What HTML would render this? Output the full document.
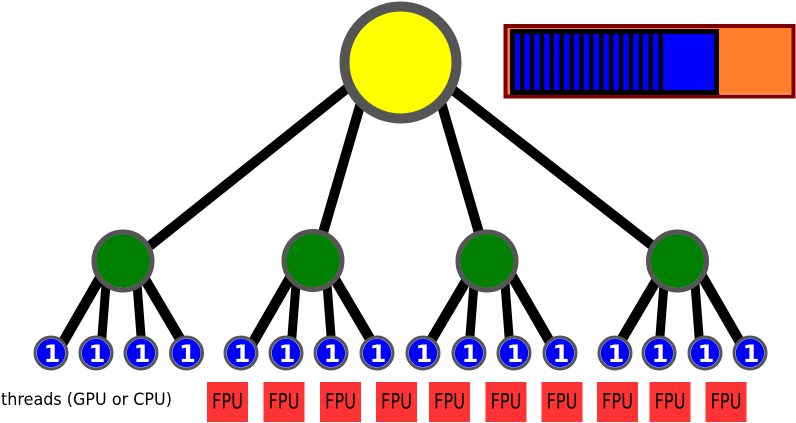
<!DOCTYPE html>
<html>
<head>
<meta charset="utf-8">
<style>
html,body{margin:0;padding:0;background:#fff;width:796px;height:423px;overflow:hidden}
svg{display:block}
text{font-family:"DejaVu Sans","Liberation Sans",sans-serif}
</style>
</head>
<body>
<svg width="796" height="423" viewBox="0 0 796 423" xmlns="http://www.w3.org/2000/svg">
<g stroke="#000" stroke-width="10" fill="none">
<line x1="147" y1="248" x2="360" y2="78"/>
<line x1="369" y1="75" x2="318" y2="250"/>
<line x1="433" y1="75" x2="484" y2="250"/>
<line x1="440" y1="80" x2="658" y2="250"/>
</g>
<g stroke="#000" fill="none">
<g stroke-width="10.500">
<line x1="104" y1="271" x2="58" y2="351"/>
<line x1="140" y1="271" x2="186" y2="349"/>
<line x1="294" y1="271" x2="248" y2="351"/>
<line x1="330" y1="271" x2="376" y2="349"/>
<line x1="472" y1="271" x2="426" y2="349"/>
<line x1="509" y1="271" x2="554" y2="349"/>
<line x1="662" y1="271" x2="616" y2="349"/>
<line x1="699" y1="271" x2="744" y2="349"/>
</g>
<g stroke-width="9">
<line x1="107" y1="271" x2="101" y2="349"/>
<line x1="136" y1="271" x2="142" y2="349"/>
<line x1="297" y1="271" x2="291" y2="349"/>
<line x1="326" y1="271" x2="332" y2="349"/>
<line x1="475" y1="271" x2="469" y2="349"/>
<line x1="504" y1="271" x2="510" y2="349"/>
<line x1="665" y1="271" x2="659" y2="349"/>
<line x1="694" y1="271" x2="700" y2="349"/>
</g>
</g>

<circle cx="400.500" cy="62.500" r="56" fill="#ff0" stroke="#555" stroke-width="10"/>

<g fill="#008000" stroke="#fff" stroke-width="0.800">
<circle cx="123" cy="261" r="27"/>
<circle cx="313" cy="260.500" r="27"/>
<circle cx="487" cy="261" r="27"/>
<circle cx="677.500" cy="261" r="27"/>
</g>
<g fill="none" stroke="#555" stroke-width="5">
<circle cx="123" cy="261" r="29"/>
<circle cx="313" cy="260.500" r="29"/>
<circle cx="487" cy="261" r="29"/>
<circle cx="677.500" cy="261" r="29"/>
</g>

<rect x="505.500" y="26" width="288" height="70.500" fill="#ff7f2a" stroke="#800000" stroke-width="4"/>
<rect x="720" y="93.800" width="71" height="0.800" fill="#ffd9c0"/>
<rect x="512.500" y="31.500" width="204" height="61" fill="#00f" stroke="#000" stroke-width="5"/>
<g fill="#000">
<rect x="520" y="34" width="4.300" height="56"/>
<rect x="529.900" y="34" width="4.300" height="56"/>
<rect x="539.800" y="34" width="4.300" height="56"/>
<rect x="549.700" y="34" width="4.300" height="56"/>
<rect x="559.600" y="34" width="4.300" height="56"/>
<rect x="569.500" y="34" width="4.300" height="56"/>
<rect x="579.300" y="34" width="4.300" height="56"/>
<rect x="589.200" y="34" width="4.300" height="56"/>
<rect x="599.100" y="34" width="4.300" height="56"/>
<rect x="609" y="34" width="4.300" height="56"/>
<rect x="618.900" y="34" width="4.300" height="56"/>
<rect x="628.800" y="34" width="4.300" height="56"/>
<rect x="638.700" y="34" width="4.300" height="56"/>
<rect x="648.600" y="34" width="4.300" height="56"/>
<rect x="658.600" y="34" width="4.300" height="56"/>
</g>

<g fill="#00f" stroke="#fff" stroke-width="0.800">
<circle cx="51" cy="353" r="14.600"/>
<circle cx="96" cy="353" r="14.600"/>
<circle cx="141" cy="353" r="14.600"/>
<circle cx="186.500" cy="353" r="14.600"/>
<circle cx="241" cy="353" r="14.600"/>
<circle cx="286" cy="353" r="14.600"/>
<circle cx="331" cy="353" r="14.600"/>
<circle cx="377" cy="353" r="14.600"/>
<circle cx="423" cy="353" r="14.600"/>
<circle cx="469" cy="353" r="14.600"/>
<circle cx="514" cy="353" r="14.600"/>
<circle cx="560" cy="353" r="14.600"/>
<circle cx="615" cy="353" r="14.600"/>
<circle cx="659" cy="353" r="14.600"/>
<circle cx="705" cy="353" r="14.600"/>
<circle cx="750" cy="353" r="14.600"/>
</g>
<g fill="none" stroke="#555" stroke-width="3">
<circle cx="51" cy="353" r="16"/>
<circle cx="96" cy="353" r="16"/>
<circle cx="141" cy="353" r="16"/>
<circle cx="186.500" cy="353" r="16"/>
<circle cx="241" cy="353" r="16"/>
<circle cx="286" cy="353" r="16"/>
<circle cx="331" cy="353" r="16"/>
<circle cx="377" cy="353" r="16"/>
<circle cx="423" cy="353" r="16"/>
<circle cx="469" cy="353" r="16"/>
<circle cx="514" cy="353" r="16"/>
<circle cx="560" cy="353" r="16"/>
<circle cx="615" cy="353" r="16"/>
<circle cx="659" cy="353" r="16"/>
<circle cx="705" cy="353" r="16"/>
<circle cx="750" cy="353" r="16"/>
</g>
<g fill="#fff" font-size="24" font-weight="bold" text-anchor="middle">
<text x="52" y="362">1</text>
<text x="97" y="362">1</text>
<text x="142" y="362">1</text>
<text x="187.500" y="362">1</text>
<text x="242" y="362">1</text>
<text x="287" y="362">1</text>
<text x="332" y="362">1</text>
<text x="378" y="362">1</text>
<text x="424" y="362">1</text>
<text x="470" y="362">1</text>
<text x="515" y="362">1</text>
<text x="561" y="362">1</text>
<text x="616" y="362">1</text>
<text x="660" y="362">1</text>
<text x="706" y="362">1</text>
<text x="751" y="362">1</text>
</g>

<text x="1" y="405" font-size="17" fill="#000" textLength="171" lengthAdjust="spacingAndGlyphs">threads (GPU or CPU)</text>

<g fill="#ff3333">
<rect x="207" y="382" width="41" height="40"/>
<rect x="263.500" y="382" width="41" height="40"/>
<rect x="320" y="382" width="41" height="40"/>
<rect x="376" y="382" width="41" height="40"/>
<rect x="429" y="382" width="41" height="40"/>
<rect x="485.500" y="382" width="41" height="40"/>
<rect x="541.500" y="382" width="41" height="40"/>
<rect x="597" y="382" width="41" height="40"/>
<rect x="649.500" y="382" width="41" height="40"/>
<rect x="705.500" y="382" width="41" height="40"/>
</g>
<g fill="#000" font-size="21">
<text x="212" y="408.500" textLength="31" lengthAdjust="spacingAndGlyphs">FPU</text>
<text x="268.500" y="408.500" textLength="31" lengthAdjust="spacingAndGlyphs">FPU</text>
<text x="325" y="408.500" textLength="31" lengthAdjust="spacingAndGlyphs">FPU</text>
<text x="381" y="408.500" textLength="31" lengthAdjust="spacingAndGlyphs">FPU</text>
<text x="434" y="408.500" textLength="31" lengthAdjust="spacingAndGlyphs">FPU</text>
<text x="490.500" y="408.500" textLength="31" lengthAdjust="spacingAndGlyphs">FPU</text>
<text x="546.500" y="408.500" textLength="31" lengthAdjust="spacingAndGlyphs">FPU</text>
<text x="602" y="408.500" textLength="31" lengthAdjust="spacingAndGlyphs">FPU</text>
<text x="654.500" y="408.500" textLength="31" lengthAdjust="spacingAndGlyphs">FPU</text>
<text x="710.500" y="408.500" textLength="31" lengthAdjust="spacingAndGlyphs">FPU</text>
</g>
</svg>
</body>
</html>
